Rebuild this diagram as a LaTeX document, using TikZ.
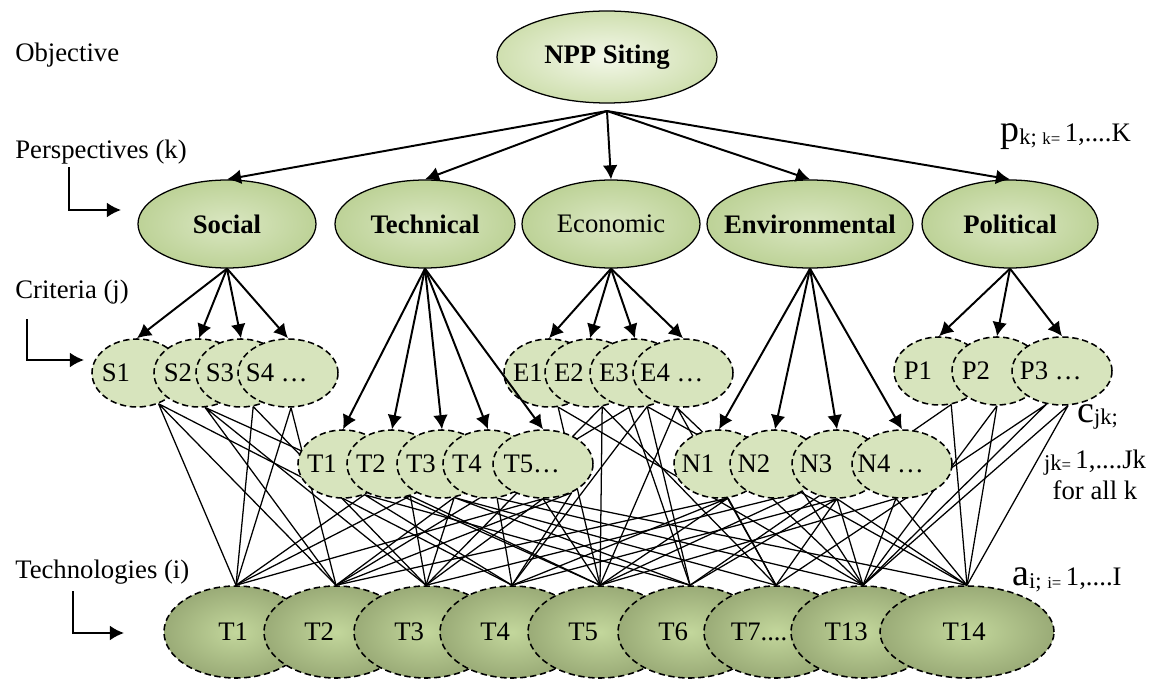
\documentclass[tikz,border=0pt]{standalone}
\usepackage{fontspec}
\setmainfont{Liberation Serif}
\usepackage{tikz}
\usetikzlibrary{shapes.geometric,arrows.meta,backgrounds}
\definecolor{nppCentre}{HTML}{F4F8EA}
\definecolor{nppBord}{HTML}{CFDFAF}
\definecolor{perspCentre}{HTML}{DAE7C2}
\definecolor{perspBord}{HTML}{BDD297}
\definecolor{critereFond}{HTML}{D7E4BD}
\definecolor{technoCentre}{HTML}{C3D79C}
\definecolor{technoBord}{HTML}{9AAB77}

\begin{document}
\begin{tikzpicture}[x=0.025cm,y=-0.025cm,font=\fontsize{19}{22}\selectfont]
    % Styles
    \def\px{0.025cm}
    \tikzstyle{fleche}=[->,>={Latex[length=10pt,width=10.5pt]},line width=1.4pt]
    \tikzstyle{lien}=[line width=0.9pt]
    \tikzstyle{niveau}=[anchor=west,inner sep=0pt]
    \tikzstyle{pointille}=[dash pattern=on 4.5pt off 2.6pt,line width=1.1pt]
    \tikzstyle{objectif}=[ellipse,draw,line width=0.9pt,inner color=nppCentre,outer color=nppBord,minimum width=220*\px,minimum height=92*\px]
    \tikzstyle{perspective}=[ellipse,draw,line width=0.9pt,inner color=perspCentre,outer color=perspBord,minimum width=178*\px,minimum height=88*\px,label={[anchor=center]center:#1}]
    \tikzstyle{critere}=[ellipse,draw,pointille,fill=critereFond,minimum width=90*\px,minimum height=68*\px,label={[anchor=center,xshift=-15pt]center:#1}]
    \tikzstyle{criterelarge}=[ellipse,draw,pointille,fill=critereFond,minimum width=100*\px,minimum height=68*\px,label={[anchor=center,xshift=-8pt]center:#1}]
    \tikzstyle{bulletechno}=[ellipse,draw,pointille,inner color=technoCentre,outer color=technoBord,minimum width=144*\px,minimum height=92*\px]
    \tikzstyle{techno}=[bulletechno,label={[anchor=center,xshift=-12pt]center:#1}]
    \tikzstyle{technocentre}=[bulletechno,label={[anchor=center,xshift=-2pt]center:#1}]
    \useasboundingbox (0,0) rectangle (1155,681);
    % Niveaux
    \node[niveau] (lblo) at (15,55) {Objective};
    \node[niveau] (lblp) at (15,152) {Perspectives (k)};
    \node[niveau] (lblc) at (15,292) {Criteria (j)};
    \node[niveau] (lblt) at (15,572) {Technologies (i)};
    \coordinate (flp) at (121,210);
    \coordinate (flc) at (84,360);
    \coordinate (flt) at (124,633);
    \draw[fleche] (lblp.south west) ++(54,3) |- (flp);
    \draw[fleche] (lblc.south west) ++(12,15) |- (flc);
    \draw[fleche] (lblt.south west) ++(58,7) |- (flt);
    % Objectif et perspectives
    \node[objectif] (npp) at (607,57) {\bfseries NPP Siting};
    \coordinate (hub) at (607,111);
    \node[perspective={\bfseries Social}] (soc) at (227,224) {};
    \node[perspective={\bfseries Technical}, minimum width=180*\px] (tec) at (425,224) {};
    \node[perspective=Economic] (eco) at (611,224) {};
    \node[perspective={\bfseries Environmental}, minimum width=206*\px] (env) at (810,224) {};
    \node[perspective={\bfseries Political}, minimum width=176*\px] (pol) at (1010,224) {};
    % Criteres
    \node[critere=S1] (s1) at (137,373) {};
    \node[critere=S2] (s2) at (199,373) {};
    \node[critere=S3] (s3) at (241,373) {};
    \node[criterelarge=S4 \ldots] (s4) at (288,373) {};
    \node[critere=T1] (t1) at (343,464) {};
    \node[critere=T2] (t2) at (392,464) {};
    \node[critere=T3] (t3) at (442,464) {};
    \node[critere=T4] (t4) at (488,464) {};
    \node[criterelarge=T5\ldots] (t5) at (543,464) {};
    \node[critere=E1] (e1) at (549,373) {};
    \node[critere=E2] (e2) at (590,373) {};
    \node[critere=E3] (e3) at (635,373) {};
    \node[criterelarge=E4 \ldots] (e4) at (683,373) {};
    \node[critere=N1] (n1) at (719,464) {};
    \node[critere=N2] (n2) at (775,464) {};
    \node[critere=N3] (n3) at (837,464) {};
    \node[criterelarge=N4 \ldots] (n4) at (902,464) {};
    \node[critere=P1] (p1) at (939,371) {};
    \node[critere=P2] (p2) at (997,371) {};
    \node[criterelarge=P3 \ldots] (p3) at (1062,371) {};
    % Technologies
    \node[technocentre=T1] (tec1) at (236,632) {};
    \node[techno=T2] (tec2) at (336,632) {};
    \node[techno=T3] (tec3) at (426,632) {};
    \node[techno=T4] (tec4) at (512,632) {};
    \node[techno=T5] (tec5) at (600,632) {};
    \node[techno=T6] (tec6) at (690,632) {};
    \node[techno=T7....] (tec7) at (776,632) {};
    \node[techno=T13] (tec13) at (863,632) {};
    \node[technocentre=T14, minimum width=174*\px] (tec14) at (967,632) {};
    % Indices
    \node[niveau] (indp) at (1000,137) {{\fontsize{27}{27}\selectfont p}\raisebox{-2pt}{\fontsize{16}{16}\selectfont k;\ \fontsize{12}{12}\selectfont k=}\,1,....K};
    \node[niveau] (indc) at (1077,417) {{\fontsize{27}{27}\selectfont c}\raisebox{-2pt}{\fontsize{16}{16}\selectfont jk;}};
    \node[align=center,inner sep=0pt] (indj) at (1095,475) {\raisebox{-1pt}{\fontsize{16}{16}\selectfont jk\fontsize{12}{12}\selectfont =}\,1,....Jk\\for all k};
    \node[niveau] (inda) at (1012,580) {{\fontsize{27}{27}\selectfont a}\raisebox{-2pt}{\fontsize{16}{16}\selectfont i;\ \fontsize{12}{12}\selectfont i=}\,1,....I};
    % Fleches
    \draw[fleche] (hub)--(soc.north);
    \draw[fleche] (hub)--(tec.north);
    \draw[fleche] (hub)--(eco.north);
    \draw[fleche] (hub)--(env.north);
    \draw[fleche] (hub)--(pol.north);
    \draw[fleche] (soc.south)--(s1.north);
    \draw[fleche] (soc.south)--(s2.north);
    \draw[fleche] (soc.south)--(s3.north);
    \draw[fleche] (soc.south)--(s4.north);
    \draw[fleche] (tec.south)--(t1.north);
    \draw[fleche] (tec.south)--(t2.north);
    \draw[fleche] (tec.south)--(t3.north);
    \draw[fleche] (tec.south)--(t4.north);
    \draw[fleche] (tec.south)--(t5.north);
    \draw[fleche] (eco.south)--(e1.north);
    \draw[fleche] (eco.south)--(e2.north);
    \draw[fleche] (eco.south)--(e3.north);
    \draw[fleche] (eco.south)--(e4.north);
    \draw[fleche] (env.south)--(n1.north);
    \draw[fleche] (env.south)--(n2.north);
    \draw[fleche] (env.south)--(n3.north);
    \draw[fleche] (env.south)--(n4.north);
    \draw[fleche] (pol.south)--(p1.north);
    \draw[fleche] (pol.south)--(p2.north);
    \draw[fleche] (pol.south)--(p3.north);
    % Liens criteres - technologies (sous les bulles)
    \begin{pgfonlayer}{background}
    \draw[lien] (s1.-55)--(tec1.north) (s1.-55)--(tec2.north) (s1.-55)--(tec4.north);
    \draw[lien] (s2.-80)--(tec2.north) (s2.-80)--(tec3.north) (s2.-80)--(tec5.north);
    \draw[lien] (s3.-70)--(tec1.north) (s3.-70)--(tec3.north);
    \draw[lien] (s4.-85)--(tec1.north) (s4.-85)--(tec2.north);
    \draw[lien] (t1.-55)--(tec1.north) (t1.-55)--(tec4.north) (t1.-55)--(tec6.north);
    \draw[lien] (t2.-60)--(tec1.north) (t2.-60)--(tec3.north) (t2.-60)--(tec5.north);
    \draw[lien] (t3.-70)--(tec2.north) (t3.-70)--(tec3.north) (t3.-70)--(tec6.north) (t3.-70)--(tec7.north);
    \draw[lien] (t4.-75)--(tec4.north) (t4.-75)--(tec13.north);
    \draw[lien] (t5.-90)--(tec1.north) (t5.-90)--(tec3.north) (t5.-90)--(tec5.north) (t5.-90)--(tec14.north);
    \draw[lien] (t5.-45)--(tec2.north) (t5.-45)--(tec4.north);
    \draw[lien] (e1.-75)--(tec5.north) (e1.-75)--(tec13.north);
    \draw[lien] (e2.-70)--(tec3.north) (e2.-70)--(tec5.north) (e2.-70)--(tec7.north);
    \draw[lien] (e3.-100)--(tec2.north) (e3.-100)--(tec6.north);
    \draw[lien] (e3.-70)--(tec4.north) (e3.-70)--(tec6.north) (e3.-70)--(tec14.north);
    \draw[lien] (e4.-100)--(tec5.north) (e4.-100)--(tec7.north) (e4.-100)--(tec13.north);
    \draw[lien] (n1.-75)--(tec2.north) (n1.-75)--(tec4.north) (n1.-75)--(tec5.north) (n1.-75)--(tec7.north);
    \draw[lien] (n2.-45)--(tec3.north) (n2.-45)--(tec5.north) (n2.-45)--(tec13.north);
    \draw[lien] (n3.-90)--(tec4.north) (n3.-90)--(tec6.north) (n3.-90)--(tec7.north) (n3.-90)--(tec13.north) (n3.-90)--(tec14.north);
    \draw[lien] (n4.-100)--(tec5.north) (n4.-100)--(tec13.north) (n4.-100)--(tec14.north);
    \draw[lien] (p1.-70)--(tec6.north) (p1.-70)--(tec14.north);
    \draw[lien] (p2.-90)--(tec13.north) (p2.-90)--(tec14.north);
    \draw[lien] (p3.-115)--(tec7.north) (p3.-115)--(tec13.north);
    \draw[lien] (p3.-80)--(tec13.north) (p3.-80)--(tec14.north);
    \end{pgfonlayer}
\end{tikzpicture}
\end{document}
